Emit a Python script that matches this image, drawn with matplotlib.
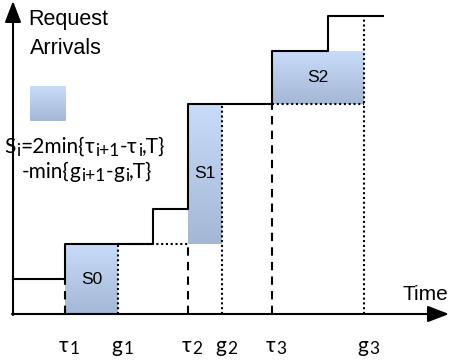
import numpy as np
import matplotlib
matplotlib.use("Agg")
import matplotlib.pyplot as plt

# step function of request arrivals (time, level after step)
step_times = [0, 52, 140, 175, 259, 315, 370]
step_levels = [35, 70, 105, 210, 263, 298, 298]

# arrival instants and grant instants
tau = [52, 175, 259]
g = [105, 209, 351]
tau_labels = [[("τ", 0), ("1", 1)], [("τ", 0), ("2", 1)], [("τ", 0), ("3", 1)]]
g_labels = [[("g", 0), ("1", 1)], [("g", 0), ("2", 1)], [("g", 0), ("3", 1)]]

# shaded regions S0..S2
s_names = ["S0", "S1", "S2"]
s_bottom = [0, 70, 210]
s_top = [70, 210, 263]

# dashed lines at tau, dotted lines at g (heights)
tau_heights = [35, 70, 210]
g_heights = [70, 210, 298]

formula1 = [("S", 0), ("i", 1), ("=2min{", 0), ("τ", 0), ("i+1", 1), ("-", 0),
            ("τ", 0), ("i", 1), (",T}", 0)]
formula2 = [("-min{", 0), ("g", 0), ("i+1", 1), ("-", 0), ("g", 0), ("i", 1),
            (",T}", 0)]

plt.rcParams['font.family'] = ['Liberation Sans', 'DejaVu Sans']

fig = plt.figure(figsize=(4.52, 3.63), dpi=100)
ax = fig.add_axes([0, 0, 1, 1])
ax.set_xlim(-13, 439)
ax.set_ylim(-49, 314)
ax.axis('off')
renderer = fig.canvas.get_renderer()

top_c = np.array([0xC8, 0xDC, 0xFA]) / 255
bot_c = np.array([0xA4, 0xB7, 0xD4]) / 255
grad = np.linspace(0, 1, 64)[:, None, None]
grad_img = top_c * (1 - grad) + bot_c * grad
FAM = ['Lato', 'DejaVu Sans']


def shade(x0, x1, y0, y1):
    ax.imshow(grad_img, extent=(x0, x1, y0, y1), origin='upper', aspect='auto',
              zorder=1, interpolation='bilinear')


def text_width(s, size):
    t = ax.text(0, 0, s, fontsize=size, family=FAM)
    w = t.get_window_extent(renderer).width
    t.remove()
    return w


def rich_text(x, y, pieces, size, sub_size, sub_drop, center=False):
    # data units are pixels here; advance = width("|s|") - width("||")
    items = []
    total = 0
    for s, sub in pieces:
        fs = sub_size if sub else size
        w = text_width("|" + s + "|", fs) - text_width("||", fs)
        t = ax.text(0, 0, s, fontsize=fs, family=FAM, va='baseline', ha='left')
        items.append((t, sub, w))
        total += w
    cx = x - total / 2 if center else x
    for t, sub, w in items:
        t.set_position((cx + (0.8 if sub else 0), y - (sub_drop if sub else 0)))
        cx += w + (0.8 if sub else 0)


# gradient boxes
for i in range(3):
    shade(tau[i], g[i], s_bottom[i], s_top[i])
    cx = (tau[i] + g[i]) / 2
    cy = (s_bottom[i] + s_top[i]) / 2
    ax.text(cx, cy, s_names[i], ha='center', va='center', fontsize=12.5, zorder=4)

# legend swatch
shade(17, 53, 193, 228)

# step function
xs, ys = [], []
for i in range(len(step_times) - 1):
    xs += [step_times[i], step_times[i + 1]]
    ys += [step_levels[i], step_levels[i]]
ax.plot(xs, ys, color='black', lw=1.5, zorder=3)

dotted = (0, (1.0, 1.3))
dashed = (0, (4, 3))
for t, h in zip(tau, tau_heights):
    ax.plot([t, t], [0, h], color='black', lw=1.5, ls=dashed, zorder=2)
for t, h in zip(g, g_heights):
    ax.plot([t, t], [0, h], color='black', lw=1.5, ls=dotted, zorder=2)

ax.plot([g[0], tau[1]], [70, 70], color='black', lw=1.5, ls=dotted, zorder=2)
ax.plot([tau[2], g[2]], [210, 210], color='black', lw=1.5, ls=dotted, zorder=2)

# axes arrows
ax.annotate('', xy=(0, 313), xytext=(0, -1),
            arrowprops=dict(arrowstyle='-|>,head_length=1.3,head_width=0.5',
                            color='black', lw=1.5, shrinkA=0, shrinkB=0))
ax.annotate('', xy=(436, 0), xytext=(-1, 0),
            arrowprops=dict(arrowstyle='-|>,head_length=1.3,head_width=0.5',
                            color='black', lw=1.5, shrinkA=0, shrinkB=0))

ax.text(15, 294, "Request", fontsize=15.5, va='center')
ax.text(17, 266, "Arrivals", fontsize=15.5, va='center')
ax.text(435, 19, "Time", fontsize=15, va='center', ha='right')

rich_text(-9, 161, formula1, 15, 12.5, 3)
rich_text(9, 136, formula2, 15, 12.5, 3)

for t, lab in zip(tau, tau_labels):
    rich_text(t + 4, -38, lab, 15, 12.5, 2, center=True)
for t, lab in zip(g, g_labels):
    rich_text(t + 4, -38, lab, 15, 12.5, 2, center=True)

fig.savefig("out.png", dpi=100)
